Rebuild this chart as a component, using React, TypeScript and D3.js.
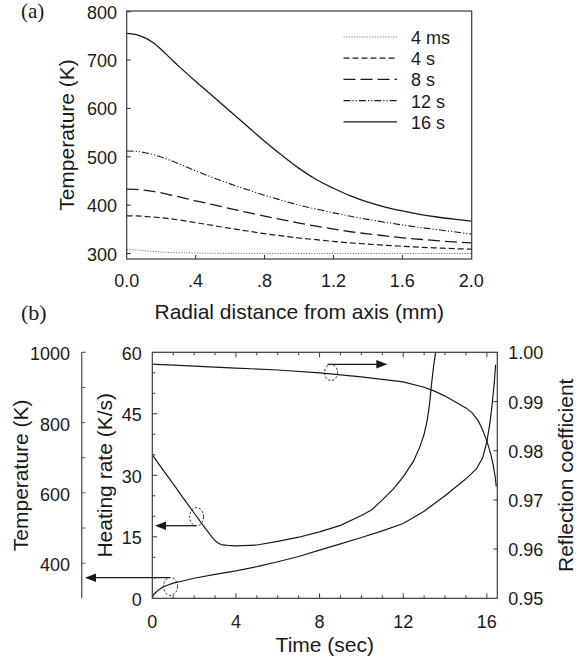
import React from 'react';
import * as d3 from 'd3';

// ---------- Panel (a) data ----------
const radial = [0, 0.05, 0.1, 0.15, 0.2, 0.25, 0.3, 0.4, 0.5, 0.6, 0.7, 0.8, 0.9, 1.0, 1.1, 1.2, 1.3, 1.4, 1.5, 1.6, 1.7, 1.8, 1.9, 2.0];
const temp4ms = [308, 307.5, 306, 304.5, 303, 302, 301.5, 301, 300.5, 300.3, 300.2, 300.1, 300, 300, 300, 300, 300, 300, 300, 300, 300, 300, 300, 300];
const temp4s = [378, 377.8, 377, 375.5, 374, 372, 369.5, 364, 358, 352, 346.5, 341, 336.5, 332, 328.5, 325, 322, 319.5, 317, 315, 313, 311.5, 310, 309];
const temp8s = [433, 432.5, 431, 428.5, 425.5, 421.5, 417.5, 409, 401, 393, 385, 377.5, 370, 363, 356.5, 350.5, 345, 340.5, 336.5, 332.5, 329.5, 326.5, 324, 322];
const temp12s = [512, 511.3, 509, 505, 499.5, 493, 486, 471, 457, 444, 432, 420.5, 410, 400, 392, 384, 377, 370.5, 364.5, 359, 354, 349.5, 345, 340];
const temp16s = [755, 753, 747, 737, 722, 705, 688, 656, 625, 594, 563, 532, 503, 476, 453, 435, 419, 406, 396, 388, 381, 375.5, 371, 367];
const legendLabels = ['4 ms', '4 s', '8 s', '12 s', '16 s'];
const xTicksA = [0, 0.4, 0.8, 1.2, 1.6, 2.0];
const xTickLabelsA = ['0.0', '.4', '.8', '1.2', '1.6', '2.0'];
const yTicksA = [300, 400, 500, 600, 700, 800];

// ---------- Panel (b) data ----------
const timeHR = [0, 0.5, 1, 1.5, 2, 2.5, 2.9, 3.1, 3.3, 3.6, 4, 5, 6, 7, 8, 9, 10, 10.5, 11, 11.5, 12, 12.5, 12.8, 13.0, 13.15, 13.25, 13.35, 13.45, 13.55];
const heatRate = [35, 31.4, 27.9, 24.3, 20.8, 17.3, 14.6, 13.6, 13.1, 12.9, 12.8, 13.0, 13.9, 14.9, 16.2, 17.8, 20.2, 21.6, 24.0, 26.5, 29.6, 33.5, 37, 40, 43.5, 47, 52, 56.5, 60];
const timeT = [0, 0.05, 0.1, 0.2, 0.35, 0.5, 0.75, 1.0, 1.5, 2, 3, 4, 5, 6, 7, 8, 9, 10, 11, 12, 13, 14, 15, 15.5, 15.8, 16.0, 16.15, 16.25, 16.35, 16.42];
const temperature = [300, 309, 313, 318.5, 326, 332, 338, 343, 350, 357, 368, 378, 390, 404, 419, 437, 455, 473, 492, 513, 548, 592, 640, 668, 700, 745, 800, 850, 910, 965];
const timeR = [0, 2, 4, 6, 8, 10, 11, 12, 13, 13.5, 14, 14.5, 15, 15.3, 15.6, 15.8, 16.0, 16.2, 16.3, 16.4, 16.45];
const reflection = [0.9976, 0.9972, 0.9968, 0.9964, 0.9958, 0.995, 0.9945, 0.994, 0.9929, 0.9921, 0.9911, 0.9899, 0.9887, 0.9877, 0.986, 0.9842, 0.982, 0.9791, 0.9771, 0.9747, 0.9727];
const timeTicks = [0, 4, 8, 12, 16];
const hrTicks = [0, 15, 30, 45, 60];
const tempTicksB = [400, 600, 800, 1000];
const reflTicks = [0.95, 0.96, 0.97, 0.98, 0.99, 1.0];

const SANS = '"Liberation Sans", Arial, Helvetica, sans-serif';
const SERIF = '"Liberation Serif", "Times New Roman", serif';
const INK = '#1a1a1a';
const SPINE = '#3a3a3a';

export default function App() {
  // Panel (a) geometry
  const aL = 126.7, aR = 471.7, aT = 11, aB = 259;
  const xA = d3.scaleLinear().domain([0, 2]).range([aL, aR - 0.4]);
  const yA = d3.scaleLinear().domain([300, 800]).range([253.5, 11.7]);
  const lineA = d3.line<[number, number]>().x(d => xA(d[0])).y(d => yA(d[1])).curve(d3.curveMonotoneX);

  const seriesA = [
    { values: temp4ms, dash: '1.2,1.4', color: '#777', w: 1 },
    { values: temp4s, dash: '6,3', color: INK, w: 1.2 },
    { values: temp8s, dash: '12,5', color: INK, w: 1.3 },
    { values: temp12s, dash: '7,2,1.2,2,1.2,2', color: INK, w: 1.1 },
    { values: temp16s, dash: '', color: INK, w: 1.3 },
  ];

  // Panel (b) geometry
  const bL = 152.3, bR = 497.3, bT = 352.3, bB = 598.3;
  const xB = d3.scaleLinear().domain([0, 16.5]).range([bL, bR]);
  const yHR = d3.scaleLinear().domain([0, 60]).range([bB, bT]);
  const yT = d3.scaleLinear().domain([300, 1000]).range([bB, bT]);
  const yR = d3.scaleLinear().domain([0.95, 1.0]).range([bB, bT]);
  const tempAxisX = 81.7;

  const mk = (xs: number[], ys: number[], ys2: d3.ScaleLinear<number, number>) =>
    d3.line<number>().x((_, i) => xB(xs[i])).y(d => ys2(d)).curve(d3.curveLinear)(ys) || '';

  const secTicks = d3.range(1, 17);
  const hrMinor = d3.range(5, 60, 5);
  const tempMinor = d3.range(400, 1000, 100);
  const reflMinor = [0.96, 0.97, 0.98, 0.99];

  const fs = 18;
  const tfs = 21;

  return (
    <svg width={585} height={663} style={{ position: 'absolute', left: 0, top: 0, background: '#fff' }} fontFamily={SANS}>
      <rect x={0} y={0} width={585} height={663} fill="#fff" />
      <defs>
        <clipPath id="clipB">
          <rect x={bL} y={bT} width={bR - bL} height={bB - bT} />
        </clipPath>
        <clipPath id="clipA">
          <rect x={aL} y={aT} width={aR - aL} height={aB - aT} />
        </clipPath>
      </defs>

      {/* ===== Panel (a) ===== */}
      <text x={21} y={18} fontFamily={SERIF} fontSize={21} fill={INK}>(a)</text>
      <g clipPath="url(#clipA)">
        {seriesA.map((s, i) => (
          <path key={i} d={lineA(radial.map((r, j) => [r, s.values[j]] as [number, number])) || ''}
            fill="none" stroke={s.color} strokeWidth={s.w} strokeDasharray={s.dash || undefined} />
        ))}
      </g>
      <rect x={aL} y={aT} width={aR - aL} height={aB - aT} fill="none" stroke={SPINE} strokeWidth={1.2} />
      {xTicksA.map((t, i) => (
        <g key={'xa' + i}>
          {i > 0 && i < xTicksA.length - 1 && <line x1={xA(t)} x2={xA(t)} y1={aB} y2={aB - 4} stroke={SPINE} strokeWidth={1.1} />}
          <text x={xA(t)} y={287} textAnchor="middle" fontSize={fs} fill={INK}>{xTickLabelsA[i]}</text>
        </g>
      ))}
      {yTicksA.map((t, i) => (
        <g key={'ya' + i}>
          <line x1={aL} x2={aL + 4} y1={yA(t)} y2={yA(t)} stroke={SPINE} strokeWidth={1.1} />
          <text x={117} y={yA(t) + 1} textAnchor="end" dominantBaseline="central" fontSize={fs} fill={INK}>{t}</text>
        </g>
      ))}
      <text transform={`translate(66.7,${(aT + aB) / 2}) rotate(-90)`} textAnchor="middle" dominantBaseline="central" fontSize={tfs} fill={INK}>Temperature (K)</text>
      <text x={(aL + aR) / 2} y={319} textAnchor="middle" fontSize={tfs} fill={INK}>Radial distance from axis (mm)</text>
      {/* legend */}
      {legendLabels.map((lab, i) => {
        const y = 37 + i * 21.2;
        const s = seriesA[i];
        return (
          <g key={'lg' + i}>
            <line x1={343.5} x2={397} y1={y} y2={y} stroke={s.color} strokeWidth={s.w} strokeDasharray={s.dash || undefined} />
            <text x={411} y={y + 1} dominantBaseline="central" fontSize={fs} fill={INK}>{lab}</text>
          </g>
        );
      })}

      {/* ===== Panel (b) ===== */}
      <text x={21} y={320} fontFamily={SERIF} fontSize={22} fill={INK}>(b)</text>
      <g clipPath="url(#clipB)" fill="none" stroke={INK} strokeWidth={1.2}>
        <path d={mk(timeR, reflection, yR)} />
        <path d={mk(timeHR, heatRate, yHR)} />
        <path d={mk(timeT, temperature, yT)} />
      </g>
      <rect x={bL} y={bT} width={bR - bL} height={bB - bT} fill="none" stroke={SPINE} strokeWidth={1.2} />
      {/* time ticks bottom & top */}
      {secTicks.map(t => {
        const len = t % 4 === 0 ? 5 : 3;
        return (
          <g key={'st' + t}>
            <line x1={xB(t)} x2={xB(t)} y1={bB} y2={bB - len} stroke={SPINE} strokeWidth={1} />
            <line x1={xB(t)} x2={xB(t)} y1={bT} y2={bT + len} stroke={SPINE} strokeWidth={1} />
          </g>
        );
      })}
      {timeTicks.map(t => (
        <text key={'tl' + t} x={xB(t)} y={628} textAnchor="middle" fontSize={fs} fill={INK}>{t}</text>
      ))}
      <text x={(bL + bR) / 2} y={652} textAnchor="middle" fontSize={tfs} fill={INK}>Time (sec)</text>
      {/* heating rate axis (left spine) */}
      {hrMinor.map(v => (
        <line key={'hm' + v} x1={bL} x2={bL + (v % 15 === 0 ? 5 : 3)} y1={yHR(v)} y2={yHR(v)} stroke={SPINE} strokeWidth={1} />
      ))}
      {hrTicks.map(v => (
        <text key={'hl' + v} x={141.7} y={yHR(v) + 1.5} textAnchor="end" dominantBaseline="central" fontSize={fs} fill={INK}>{v}</text>
      ))}
      <text transform={`translate(104,${(bT + bB) / 2}) rotate(-90)`} textAnchor="middle" dominantBaseline="central" fontSize={tfs} fill={INK}>Heating rate (K/s)</text>
      {/* temperature axis (detached) */}
      <line x1={tempAxisX} x2={tempAxisX} y1={bT} y2={bB} stroke="#555" strokeWidth={1.3} />
      <line x1={tempAxisX} x2={tempAxisX + 4} y1={yT(1000)} y2={yT(1000)} stroke="#555" strokeWidth={1.1} />
      {tempMinor.map(v => (
        <line key={'tm' + v} x1={tempAxisX} x2={tempAxisX + 3.5} y1={yT(v)} y2={yT(v)} stroke="#555" strokeWidth={1} />
      ))}
      {tempTicksB.map(v => (
        <text key={'tt' + v} x={70} y={yT(v) + 2} textAnchor="end" dominantBaseline="central" fontSize={fs} fill={INK}>{v}</text>
      ))}
      <text transform={`translate(20.8,${(bT + bB) / 2}) rotate(-90)`} textAnchor="middle" dominantBaseline="central" fontSize={tfs} fill={INK}>Temperature (K)</text>
      {/* reflection axis (right spine) */}
      {reflMinor.map(v => (
        <line key={'rm' + v} x1={bR} x2={bR - 4} y1={yR(v)} y2={yR(v)} stroke={SPINE} strokeWidth={1} />
      ))}
      {reflTicks.map(v => (
        <text key={'rl' + v} x={508.3} y={yR(v) + 1} dominantBaseline="central" fontSize={fs} fill={INK}>{v.toFixed(2)}</text>
      ))}
      <text transform={`translate(565,${(bT + bB) / 2}) rotate(-90)`} textAnchor="middle" dominantBaseline="central" fontSize={tfs} fill={INK}>Reflection coefficient</text>

      {/* annotations: dashed circles with arrows */}
      <g fill="none" stroke={INK} strokeWidth={1} strokeDasharray="2.2,1.8">
        <ellipse cx={xB(8.55)} cy={yR(0.99589)} rx={6.5} ry={8} />
        <ellipse cx={xB(2.12)} cy={yHR(19.9)} rx={7} ry={9} />
        <ellipse cx={xB(0.87)} cy={yT(333.6)} rx={7} ry={9} />
      </g>
      <g stroke={INK} strokeWidth={1.3}>
        <line x1={xB(8.38)} x2={xB(11.24) - 10} y1={yR(0.99756)} y2={yR(0.99756)} />
        <line x1={xB(2.09)} x2={xB(0.13) + 10} y1={yHR(17.7)} y2={yHR(17.7)} />
        <line x1={xB(0.84)} x2={tempAxisX + 3.3 + 10} y1={yT(358.6)} y2={yT(358.6)} />
      </g>
      <g fill={INK}>
        {(() => {
          const y1 = yR(0.99756), x1 = xB(11.24);
          const y2 = yHR(17.7), x2 = xB(0.13);
          const y3 = yT(358.6), x3 = tempAxisX + 3.3;
          return (
            <>
              <polygon points={`${x1},${y1} ${x1 - 11},${y1 - 4.2} ${x1 - 11},${y1 + 4.2}`} />
              <polygon points={`${x2},${y2} ${x2 + 11},${y2 - 4.2} ${x2 + 11},${y2 + 4.2}`} />
              <polygon points={`${x3},${y3} ${x3 + 11},${y3 - 4.2} ${x3 + 11},${y3 + 4.2}`} />
            </>
          );
        })()}
      </g>
    </svg>
  );
}
